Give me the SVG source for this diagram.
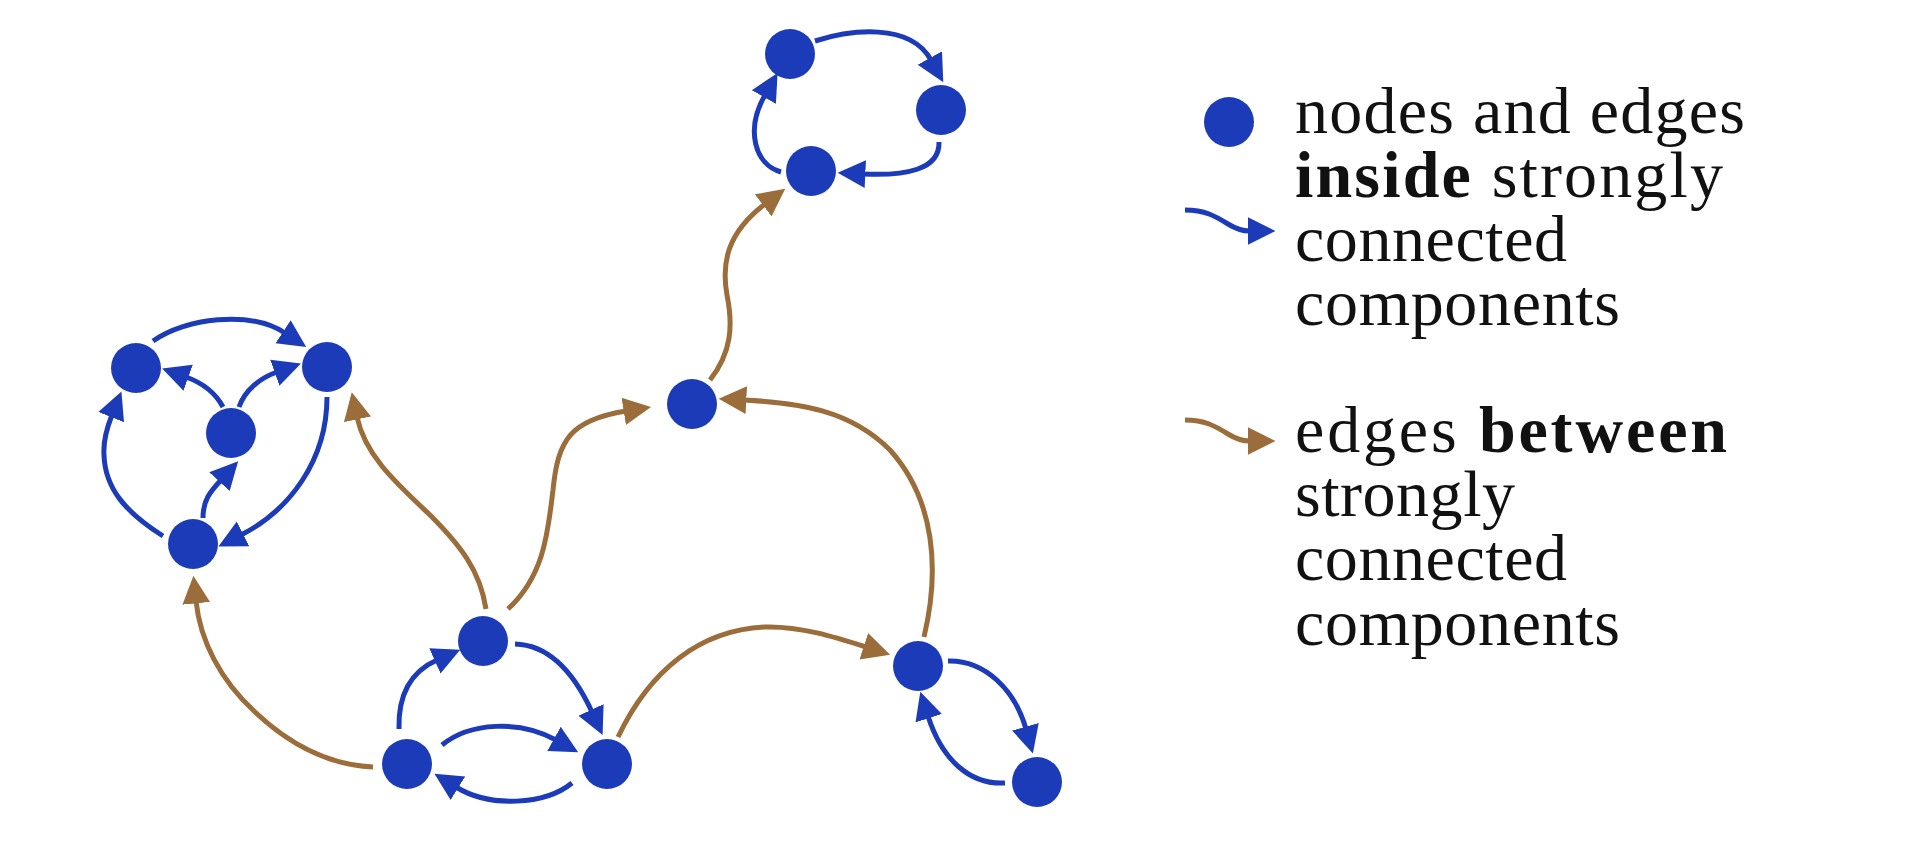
<svg xmlns="http://www.w3.org/2000/svg" width="1920" height="843" viewBox="0 0 1920 843">
<defs>
<style>
.n{fill:#1b3bb8}
.eb{fill:none;stroke:#1b3bb8;stroke-width:5;marker-end:url(#ab)}
.ew{fill:none;stroke:#9b6d3b;stroke-width:5;marker-end:url(#aw)}
.t{font-family:"Liberation Serif","Times New Roman",serif;font-size:66px;fill:#111}
.b{font-weight:bold}
</style>
<marker id="ab" markerUnits="userSpaceOnUse" markerWidth="30" markerHeight="30" viewBox="0 -13 26 26" refX="2" refY="0" orient="auto"><path d="M0,-12 L24,0 L0,12 z" fill="#1b3bb8"/></marker>
<marker id="aw" markerUnits="userSpaceOnUse" markerWidth="30" markerHeight="30" viewBox="0 -13 26 26" refX="2" refY="0" orient="auto"><path d="M0,-12 L24,0 L0,12 z" fill="#9b6d3b"/></marker>
</defs>
<rect width="1920" height="843" fill="#fff"/>
<g id="connectors">
<path class="eb" d="M153,341 C185,318 250,310 285,333"/>
<path class="eb" d="M223,407 C215,392 200,382 186,377"/>
<path class="eb" d="M239,407 C245,390 260,378 277,372"/>
<path class="eb" d="M203,518 C203,500 210,492 221,480"/>
<path class="eb" d="M163,536 C125,512 105,488 104,455 C103,440 108,425 112,415"/>
<path class="eb" d="M327,397 C327,460 290,510 241,535"/>
<path class="eb" d="M399,729 C398,695 410,672 437,660"/>
<path class="eb" d="M515,644 C550,645 575,675 592,712"/>
<path class="eb" d="M442,745 C470,722 520,720 556,740"/>
<path class="eb" d="M572,783 C545,805 490,808 456,787"/>
<path class="eb" d="M815,41 C850,30 910,22 931,60"/>
<path class="eb" d="M939,142 C940,170 905,176 863,174"/>
<path class="eb" d="M781,172 C755,165 745,130 765,95"/>
<path class="eb" d="M948,661 C985,660 1015,690 1026,729"/>
<path class="eb" d="M1005,783 C970,785 942,760 928,716"/>
<path class="ew" d="M373,767 C330,765 290,745 255,712 C220,680 200,640 196,601"/>
<path class="ew" d="M486,609 C480,570 460,545 430,515 C395,482 365,455 357,417"/>
<path class="ew" d="M508,609 C545,575 548,530 553,490 C558,440 570,420 626,411"/>
<path class="ew" d="M618,737 C650,670 700,630 765,627 C800,626 835,637 866,647"/>
<path class="ew" d="M924,637 C940,570 935,500 890,450 C850,410 800,403 744,400"/>
<path class="ew" d="M710,380 C732,352 733,325 727,295 C721,262 728,232 765,204"/>
<path class="eb" d="M1185,210 C1205,210 1215,216 1228,224 C1236,229 1242,231 1250,231"/>
<path class="ew" d="M1185,420 C1205,420 1215,426 1228,434 C1236,439 1242,441 1250,441"/>
</g>
<g id="node-A"><circle class="n" cx="136" cy="368" r="25"/></g>
<g id="node-B"><circle class="n" cx="327" cy="367" r="25"/></g>
<g id="node-C"><circle class="n" cx="231" cy="433" r="25"/></g>
<g id="node-D"><circle class="n" cx="193" cy="544" r="25"/></g>
<g id="node-E"><circle class="n" cx="483" cy="641" r="25"/></g>
<g id="node-F"><circle class="n" cx="407" cy="764" r="25"/></g>
<g id="node-G"><circle class="n" cx="607" cy="764" r="25"/></g>
<g id="node-H"><circle class="n" cx="790" cy="54" r="25"/></g>
<g id="node-I"><circle class="n" cx="941" cy="110" r="25"/></g>
<g id="node-J"><circle class="n" cx="811" cy="171" r="25"/></g>
<g id="node-K"><circle class="n" cx="918" cy="666" r="25"/></g>
<g id="node-L"><circle class="n" cx="1037" cy="782" r="25"/></g>
<g id="node-M"><circle class="n" cx="692" cy="404" r="25"/></g>
<g id="legend">
<circle class="n" cx="1229" cy="122" r="25"/>
<text class="t" x="1295" y="133" textLength="450" lengthAdjust="spacing">nodes and edges</text>
<text class="t" x="1295" y="197" textLength="428" lengthAdjust="spacing"><tspan class="b">inside</tspan> strongly</text>
<text class="t" x="1295" y="261" textLength="272" lengthAdjust="spacing">connected</text>
<text class="t" x="1295" y="325" textLength="325" lengthAdjust="spacing">components</text>
<text class="t" x="1295" y="452" textLength="432" lengthAdjust="spacing">edges <tspan class="b">between</tspan></text>
<text class="t" x="1295" y="516" textLength="220" lengthAdjust="spacing">strongly</text>
<text class="t" x="1295" y="580" textLength="272" lengthAdjust="spacing">connected</text>
<text class="t" x="1295" y="645" textLength="325" lengthAdjust="spacing">components</text>
</g>
</svg>
